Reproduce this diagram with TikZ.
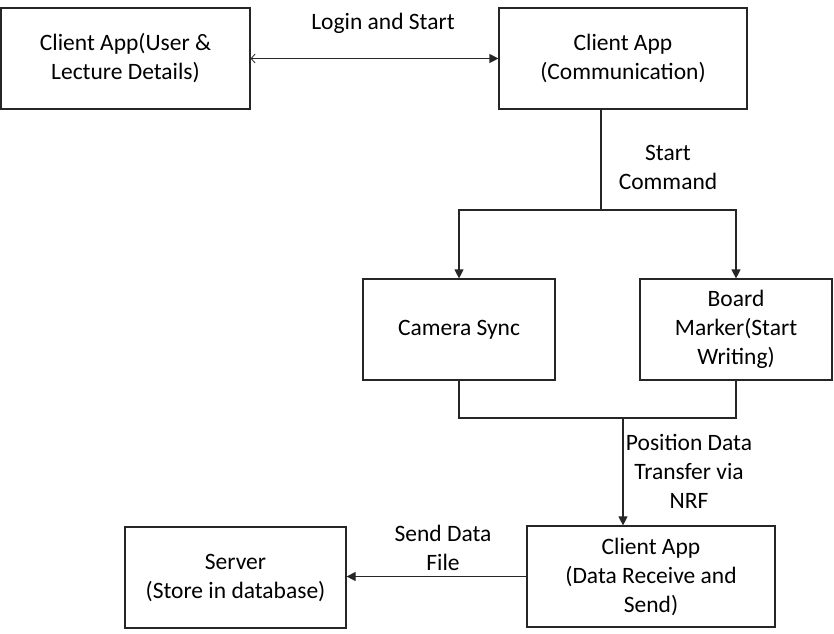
\documentclass[tikz,border=0pt]{standalone}
\usepackage{fontspec}
\setmainfont{Carlito}
\usetikzlibrary{arrows.meta}
\begin{document}
\begin{tikzpicture}[x=1pt,y=-1pt,
  box/.style={draw=black!85,line width=1.2pt,minimum width=#1,minimum height=101pt,align=center,inner sep=0pt,font=\fontsize{23.5}{29}\selectfont},
  lbl/.style={align=center,font=\fontsize{23.5}{29}\selectfont,inner sep=0pt},
  conn/.style={draw=black!85,line width=1.2pt},
  tip/.style={-{Triangle[length=9pt,width=9pt]}}]
\useasboundingbox (0,0) rectangle (834,633);
\node[box=249pt] (ca1) at (125.5,58.5) {Client App(User \&\\Lecture Details)};
\node[box=248pt] (ca2) at (623,58.5) {Client App\\(Communication)};
\node[box=192pt] (cam) at (459,329.5) {Camera Sync};
\node[box=192pt] (bm) at (736,329.5) {Board\\Marker(Start\\Writing)};
\node[box=248pt] (ca3) at (651,576.5) {Client App\\(Data Receive and\\Send)};
\node[box=221pt] (srv) at (235.5,577.5) {Server\\(Store in database)};
\coordinate (j1) at (601,210);
\coordinate (j2) at (623,418);
\draw[conn,{Straight Barb[length=4pt,width=9pt,line width=0.8pt]}-{Triangle[length=9pt,width=9pt]}] (ca1.east) -- (ca2.west);
\node[lbl] (l1) at (383,23.5) {Login and Start};
\draw[conn] (ca2.south -| j1) -- (j1);
\draw[conn,tip] (j1) -| (cam.north);
\draw[conn,tip] (j1) -| (bm.north);
\node[lbl] (l2) at (668,167) {Start\\Command};
\draw[conn] (cam.south) |- (j2);
\draw[conn] (bm.south) |- (j2);
\draw[conn,tip] (j2) -- (ca3.north -| j2);
\node[lbl] (l3) at (689,471) {Position Data\\Transfer via\\NRF};
\draw[conn,tip] (ca3.west) -- (srv.east |- ca3.west);
\node[lbl] (l4) at (443,548) {Send Data\\File};
\end{tikzpicture}
\end{document}
